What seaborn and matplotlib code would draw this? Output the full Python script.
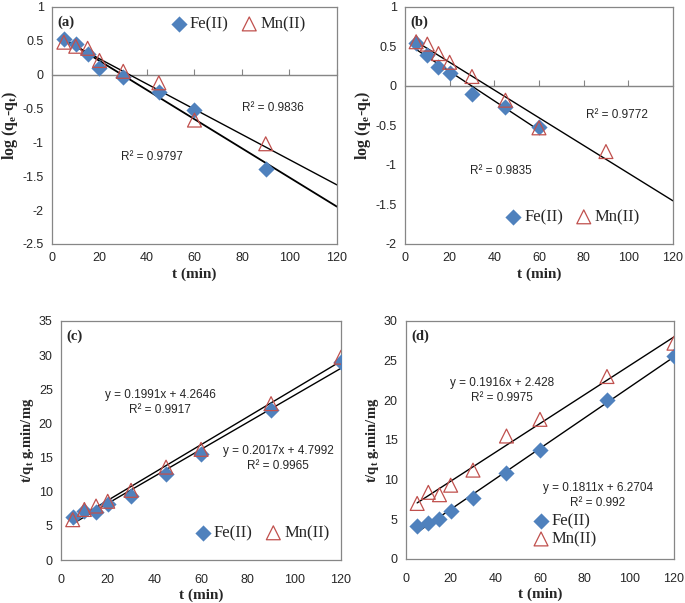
import matplotlib
matplotlib.use("Agg")
import matplotlib.pyplot as plt
import numpy as np
import seaborn as sns

sns.set_style("white")
plt.rcParams["font.family"] = ["Liberation Sans", "DejaVu Sans"]
plt.rcParams["mathtext.fontset"] = "custom"
plt.rcParams["mathtext.rm"] = "Liberation Serif:bold"
plt.rcParams["mathtext.it"] = "Liberation Serif:bold"
plt.rcParams["mathtext.bf"] = "Liberation Serif:bold"

FE_COLOR = "#4F81BD"
MN_COLOR = "#C0504D"
FRAME = "#868686"

# pseudo-first-order, (a) and (b)
t_a = [5, 10, 15, 20, 30, 45, 60, 90]
fe_a = [0.52, 0.46, 0.30, 0.10, -0.04, -0.26, -0.52, -1.40]
mn_a = [0.48, 0.42, 0.39, 0.21, 0.05, -0.12, -0.67, -1.02]
r2_a = ["R² = 0.9836", "R² = 0.9797"]

t_b_fe = [5, 10, 15, 20, 30, 45, 60]
fe_b = [0.54, 0.39, 0.24, 0.16, -0.10, -0.26, -0.52]
t_b_mn = [5, 10, 15, 20, 30, 45, 60, 90]
mn_b = [0.56, 0.53, 0.41, 0.30, 0.12, -0.18, -0.53, -0.83]
r2_b = ["R² = 0.9772", "R² = 0.9835"]

# pseudo-second-order, (c) and (d)
t_cd = [5, 10, 15, 20, 30, 45, 60, 90, 120]
fe_c = [6.3, 7.2, 7.0, 8.2, 9.4, 12.6, 15.5, 21.9, 29.0]
mn_c = [5.9, 7.4, 7.9, 8.6, 10.2, 13.6, 16.2, 22.9, 29.7]
eq_c = ["y = 0.1991x + 4.2646\nR² = 0.9917", "y = 0.2017x + 4.7992\nR² = 0.9965"]

fe_d = [4.2, 4.5, 5.0, 6.1, 7.7, 10.8, 13.7, 20.0, 25.6]
mn_d = [7.0, 8.4, 8.1, 9.3, 11.2, 15.5, 17.6, 23.0, 27.2]
eq_d = ["y = 0.1916x + 2.428\nR² = 0.9975", "y = 0.1811x + 6.2704\nR² = 0.992"]

YLABEL_1 = r"log (q$_{e}$-q$_{t}$)"
YLABEL_2 = r"t/q$_{t}$ g.min/mg"
SERIF = ["Liberation Serif", "DejaVu Serif"]


def trend(ax, x, y, x_end, lw=1.0):
    slope, icpt = np.polyfit(x, y, 1)
    xs = np.array([min(x), x_end])
    sns.lineplot(x=xs, y=slope * xs + icpt, color="black", lw=lw, ax=ax)


def points(ax, fe_x, fe, mn_x, mn):
    sns.scatterplot(x=fe_x, y=fe, marker="D", s=68, color=FE_COLOR,
                    edgecolor=FE_COLOR, linewidth=0, label="Fe(II)", ax=ax, zorder=3)
    sns.scatterplot(x=mn_x, y=mn, marker="^", s=100, facecolors="none",
                    edgecolor=MN_COLOR, linewidth=0.9, label="Mn(II)", ax=ax, zorder=4)


def style(ax, ylim, ystep, ylabel, tag, ysize, zero_axis=False):
    ax.set_xlim(0, 120)
    ax.set_ylim(*ylim)
    yt = np.arange(ylim[0], ylim[1] + ystep / 2, ystep)
    ax.set_xticks(np.arange(0, 121, 20))
    ax.set_yticks(yt)
    ax.set_yticklabels([f"{v:g}" for v in yt])
    for sp in ax.spines.values():
        sp.set_color(FRAME)
        sp.set_linewidth(0.9)
    ax.tick_params(axis="y", direction="out", length=4, color=FRAME, labelsize=9, pad=2)
    ax.tick_params(axis="x", labelsize=9, pad=6)
    if zero_axis:
        ax.tick_params(axis="x", length=0)
        frac = (0 - ylim[0]) / (ylim[1] - ylim[0])
        ax.axhline(0, color=FRAME, lw=0.9, zorder=1)
        sec = ax.secondary_xaxis(frac)
        sec.set_xticks(np.arange(0, 121, 20))
        sec.set_xticklabels([])
        sec.tick_params(direction="out", length=4, color=FRAME)
        sec.spines["bottom"].set_visible(False)
    else:
        ax.tick_params(axis="x", direction="out", length=4, color=FRAME)
    ax.set_xlabel("t (min)", family=SERIF, fontweight="bold", fontsize=11, labelpad=2)
    ax.set_ylabel(ylabel, family=SERIF, fontweight="bold", fontsize=ysize, labelpad=2)
    ax.text(0.02, 0.965, tag, transform=ax.transAxes, family=SERIF,
            fontweight="bold", fontsize=10.5, va="top", ha="left")


def legend(ax, ncol, **kw):
    ax.legend(ncol=ncol, frameon=False, prop={"family": SERIF, "size": 12},
              handletextpad=0.0, columnspacing=0.6, borderpad=0.2,
              labelspacing=0.1, handlelength=1.3, **kw)


fig = plt.figure(figsize=(6.85, 6.03), dpi=100)

# (a)
ax = fig.add_axes([0.0759, 0.5954, 0.416, 0.393])
points(ax, t_a, fe_a, t_a, mn_a)
trend(ax, t_a, fe_a, 120, lw=1.3)
trend(ax, t_a, mn_a, 120)
style(ax, (-2.5, 1), 0.5, YLABEL_1, "(a)", 11.5, zero_axis=True)
ax.text(93, -0.49, r2_a[0], ha="center", va="center", fontsize=8.5)
ax.text(42, -1.21, r2_a[1], ha="center", va="center", fontsize=8.5)
legend(ax, 2, loc="upper right", bbox_to_anchor=(0.93, 1.01))

# (b)
ax = fig.add_axes([0.5912, 0.5954, 0.3912, 0.393])
points(ax, t_b_fe, fe_b, t_b_mn, mn_b)
trend(ax, t_b_fe, fe_b, 60)
trend(ax, t_b_mn, mn_b, 120)
style(ax, (-2, 1), 0.5, YLABEL_1, "(b)", 11.5, zero_axis=True)
ax.text(95, -0.37, r2_b[0], ha="center", va="center", fontsize=8.5)
ax.text(43, -1.08, r2_b[1], ha="center", va="center", fontsize=8.5)
legend(ax, 2, loc="lower right", bbox_to_anchor=(0.92, 0.03))

# (c)
ax = fig.add_axes([0.0891, 0.0713, 0.4088, 0.3964])
points(ax, t_cd, fe_c, t_cd, mn_c)
trend(ax, t_cd, fe_c, 120)
trend(ax, t_cd, mn_c, 120)
style(ax, (0, 35), 5, YLABEL_2, "(c)", 10.5)
ax.text(42.4, 23.1, eq_c[0], ha="center", va="center", fontsize=8.5, linespacing=1.35)
ax.text(93, 14.9, eq_c[1], ha="center", va="center", fontsize=8.5, linespacing=1.35)
legend(ax, 2, loc="lower right", bbox_to_anchor=(1.0, 0.03))

# (d)
ax = fig.add_axes([0.5927, 0.073, 0.3912, 0.3947])
points(ax, t_cd, fe_d, t_cd, mn_d)
trend(ax, t_cd, fe_d, 120)
trend(ax, t_cd, mn_d, 120)
style(ax, (0, 30), 5, YLABEL_2, "(d)", 10.5)
ax.text(43, 21.25, eq_d[0], ha="center", va="center", fontsize=8.5, linespacing=1.35)
ax.text(86, 8.05, eq_d[1], ha="center", va="center", fontsize=8.5, linespacing=1.35)
legend(ax, 1, loc="lower left", bbox_to_anchor=(0.42, 0.0))

fig.savefig("out.png", dpi=100)
